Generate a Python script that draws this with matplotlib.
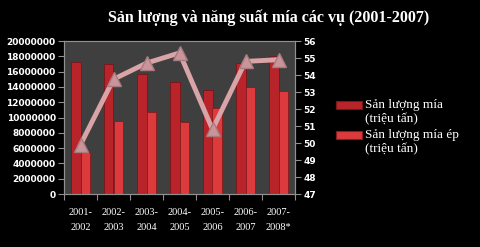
import matplotlib
matplotlib.use('Agg')
import matplotlib.pyplot as plt
from matplotlib.patches import Rectangle
import numpy as np

# data
seasons = ['2001-\n2002', '2002-\n2003', '2003-\n2004', '2004-\n2005',
           '2005-\n2006', '2006-\n2007', '2007-\n2008*']
san_luong = [17200000, 17000000, 15700000, 14700000, 13600000, 17100000, 18000000]
san_luong_ep = [5500000, 9500000, 10700000, 9400000, 11300000, 14000000, 13400000]
nang_suat = [49.9, 53.75, 54.7, 55.3, 50.8, 54.8, 54.9]
labels = ['Sản lượng mía\n(triệu tấn)', 'Sản lượng mía ép\n(triệu tấn)']

fig = plt.figure(figsize=(4.8, 2.47), dpi=100, facecolor='black')
ax = fig.add_axes([64/480, 1-194/247, 231/480, 153/247])
ax.set_facecolor('#3f3f3f')

x = np.arange(len(seasons))
w = 0.28
colors = ['#b8242a', '#dc3a3c']
edges = ['#7a1518', '#8a1a1c']
ax.bar(x - w/2, san_luong, w, color=colors[0], edgecolor=edges[0], linewidth=0.6)
ax.bar(x + w/2, san_luong_ep, w, color=colors[1], edgecolor=edges[1], linewidth=0.6)
ax.set_xlim(-0.5, len(seasons) - 0.5)
ax.set_ylim(0, 20000000)
ax.set_yticks(np.arange(0, 20000001, 2000000))
ax.set_yticklabels([str(v) for v in range(0, 20000001, 2000000)])
ax.set_xticks(np.arange(-0.5, len(seasons), 1))
ax.set_xticklabels([])
ax.set_xticks(x, minor=True)
ax.set_xticklabels(seasons, minor=True, family='Liberation Serif', fontsize=7.5,
                   color='white', linespacing=1.9)
ax.tick_params(axis='x', which='minor', length=0, pad=10)
ax.tick_params(axis='x', which='major', length=4, color='#909090')
ax.tick_params(axis='y', length=4, color='#909090', labelcolor='white', labelsize=6.5, pad=2)
for t in ax.get_yticklabels():
    t.set_fontweight('bold')
for s in ax.spines.values():
    s.set_color('#909090')

ax2 = ax.twinx()
ax2.plot(x, nang_suat, color='#d9a4a8', linewidth=3.5, marker='^', markersize=10,
         markerfacecolor='#c8959a', markeredgecolor='#a87a7e', zorder=3)
ax2.set_ylim(47, 56)
ax2.set_yticks(range(47, 57))
ax2.tick_params(axis='y', length=4, color='#909090', labelcolor='white', labelsize=6.5, pad=2)
for t in ax2.get_yticklabels():
    t.set_fontweight('bold')
for s in ax2.spines.values():
    s.set_color('#909090')

fig.text(269/480, 1-18/247, 'Sản lượng và năng suất mía các vụ (2001-2007)',
         ha='center', va='center', color='white', family='Liberation Serif',
         fontsize=11.5, fontweight='bold')

# legend drawn by hand so the swatch sits on the first text line
for i, lab in enumerate(labels):
    ytop = 101 + i * 30
    fig.patches.append(Rectangle((336/480, 1-(ytop+8)/247), 26/480, 8/247,
                                 transform=fig.transFigure, facecolor=colors[i],
                                 edgecolor=edges[i], linewidth=0.8))
    fig.text(365/480, 1-(ytop-2)/247, lab, ha='left', va='top', color='white',
             family='Liberation Serif', fontsize=9.5, linespacing=1.25)

fig.savefig('out.png', dpi=100, facecolor='black')
